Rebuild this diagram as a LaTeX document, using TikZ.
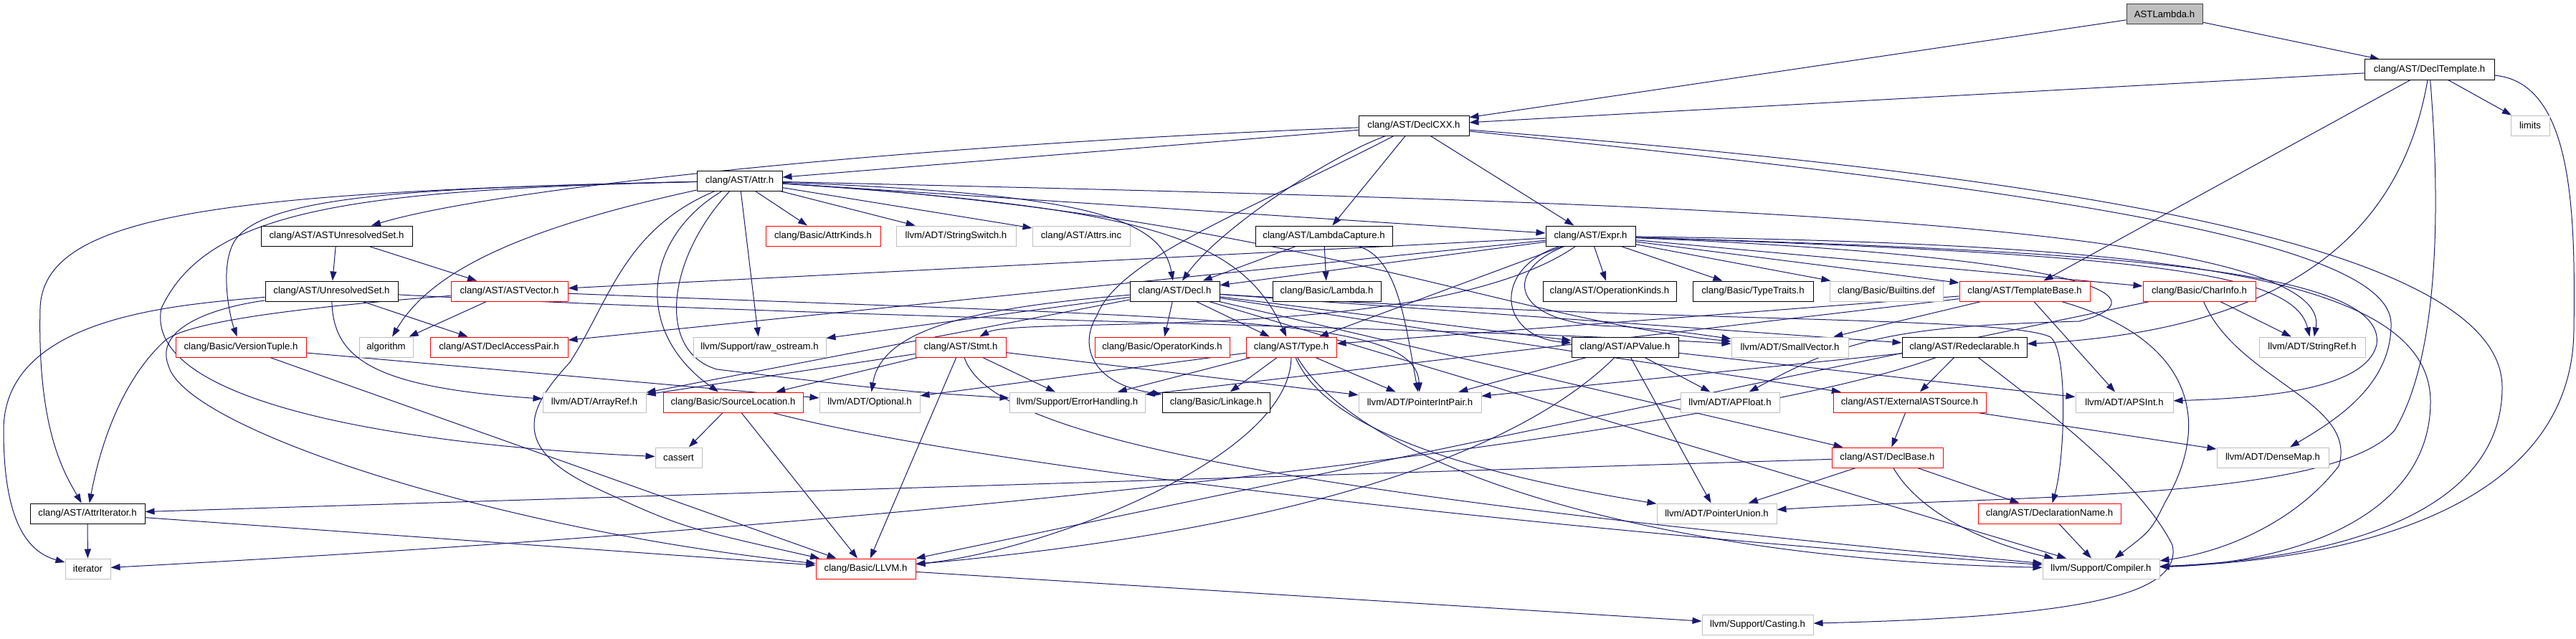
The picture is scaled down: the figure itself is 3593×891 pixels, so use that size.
\documentclass[tikz,border=0pt]{standalone}
\usepackage{fontspec}
\setmainfont{Liberation Sans}
\usetikzlibrary{arrows.meta}
\definecolor{incblue}{RGB}{25,25,112}
\definecolor{extgray}{RGB}{191,191,191}
\definecolor{truncred}{RGB}{255,0,0}
\pgfdeclarelayer{edges}
\pgfsetlayers{edges,main}

\begin{document}
\begin{tikzpicture}[x=1pt,y=-1pt,
  hdrbox/.style={draw=black,fill=white,line width=1pt,minimum height=28pt,inner sep=0pt,font=\fontsize{13.2}{15}\selectfont},
  redbox/.style={hdrbox,draw=truncred},
  sysbox/.style={hdrbox,draw=extgray},
  rootbox/.style={hdrbox,draw=black!75,fill=extgray},
  inc/.style={draw=incblue,line width=1pt,-{Triangle[length=13pt,width=9pt]}}]
\useasboundingbox (0,0) rectangle (3593,891);

\node[rootbox,minimum width=106] (astlambda) at (3019,20) {ASTLambda.h};
\node[hdrbox,minimum width=181] (decltemplate) at (3388.5,97) {clang/AST/DeclTemplate.h};
\node[hdrbox,minimum width=154] (declcxx) at (1972,175) {clang/AST/DeclCXX.h};
\node[sysbox,minimum width=54] (limits) at (3529,175) {limits};
\node[hdrbox,minimum width=119] (attr) at (1031.5,252) {clang/AST/Attr.h};
\node[hdrbox,minimum width=211] (astunresolvedset) at (469.5,329) {clang/AST/ASTUnresolvedSet.h};
\node[redbox,minimum width=160] (attrkinds) at (1148,329) {clang/Basic/AttrKinds.h};
\node[sysbox,minimum width=167] (stringswitch) at (1333.5,329) {llvm/ADT/StringSwitch.h};
\node[sysbox,minimum width=136] (attrsinc) at (1508,329) {clang/AST/Attrs.inc};
\node[hdrbox,minimum width=191] (lambdacapture) at (1846.5,329) {clang/AST/LambdaCapture.h};
\node[hdrbox,minimum width=125] (expr) at (2218.5,329) {clang/AST/Expr.h};
\node[hdrbox,minimum width=185] (unresolvedset) at (462.5,406) {clang/AST/UnresolvedSet.h};
\node[redbox,minimum width=163] (astvector) at (710.5,406) {clang/AST/ASTVector.h};
\node[hdrbox,minimum width=125] (decl) at (1638.5,406) {clang/AST/Decl.h};
\node[hdrbox,minimum width=151] (lambda) at (1850.5,406) {clang/Basic/Lambda.h};
\node[hdrbox,minimum width=186] (operationkinds) at (2245,406) {clang/AST/OperationKinds.h};
\node[hdrbox,minimum width=168] (typetraits) at (2445,406) {clang/Basic/TypeTraits.h};
\node[sysbox,minimum width=158] (builtins) at (2631,406) {clang/Basic/Builtins.def};
\node[redbox,minimum width=182] (templatebase) at (2824,406) {clang/AST/TemplateBase.h};
\node[redbox,minimum width=157] (charinfo) at (3067.5,406) {clang/Basic/CharInfo.h};
\node[redbox,minimum width=182] (versiontuple) at (336,484) {clang/Basic/VersionTuple.h};
\node[sysbox,minimum width=75] (algorithm) at (538.5,484) {algorithm};
\node[redbox,minimum width=192] (declaccesspair) at (696,484) {clang/AST/DeclAccessPair.h};
\node[sysbox,minimum width=185] (rawostream) at (1059.5,484) {llvm/Support/raw\_ostream.h};
\node[redbox,minimum width=126] (stmt) at (1340,484) {clang/AST/Stmt.h};
\node[redbox,minimum width=188] (operatorkinds) at (1621,484) {clang/Basic/OperatorKinds.h};
\node[redbox,minimum width=126] (type) at (1801,484) {clang/AST/Type.h};
\node[hdrbox,minimum width=149] (apvalue) at (2266.5,484) {clang/AST/APValue.h};
\node[sysbox,minimum width=163] (smallvector) at (2496.5,484) {llvm/ADT/SmallVector.h};
\node[hdrbox,minimum width=174] (redeclarable) at (2740,484) {clang/AST/Redeclarable.h};
\node[sysbox,minimum width=148] (stringref) at (3225,484) {llvm/ADT/StringRef.h};
\node[sysbox,minimum width=144] (arrayref) at (829,561) {llvm/ADT/ArrayRef.h};
\node[redbox,minimum width=195] (sourcelocation) at (1022.5,561) {clang/Basic/SourceLocation.h};
\node[sysbox,minimum width=140] (optional) at (1213,561) {llvm/ADT/Optional.h};
\node[sysbox,minimum width=189] (errorhandling) at (1502.5,561) {llvm/Support/ErrorHandling.h};
\node[hdrbox,minimum width=150] (linkage) at (1696,561) {clang/Basic/Linkage.h};
\node[sysbox,minimum width=171] (pointerintpair) at (1980.5,561) {llvm/ADT/PointerIntPair.h};
\node[sysbox,minimum width=138] (apfloat) at (2413,561) {llvm/ADT/APFloat.h};
\node[redbox,minimum width=213] (externalastsource) at (2663.5,561) {clang/AST/ExternalASTSource.h};
\node[sysbox,minimum width=136] (apsint) at (2963,561) {llvm/ADT/APSInt.h};
\node[sysbox,minimum width=65] (cassert) at (946.5,638) {cassert};
\node[redbox,minimum width=155] (declbase) at (2632.5,638) {clang/AST/DeclBase.h};
\node[sysbox,minimum width=156] (densemap) at (3170,638) {llvm/ADT/DenseMap.h};
\node[hdrbox,minimum width=160] (attriterator) at (122,716) {clang/AST/AttrIterator.h};
\node[sysbox,minimum width=167] (pointerunion) at (2394.5,716) {llvm/ADT/PointerUnion.h};
\node[redbox,minimum width=199] (declarationname) at (2858.5,716) {clang/AST/DeclarationName.h};
\node[sysbox,minimum width=63] (iterator) at (122.5,793) {iterator};
\node[redbox,minimum width=139] (llvm) at (1207.5,793) {clang/Basic/LLVM.h};
\node[sysbox,minimum width=163] (compiler) at (2930.5,793) {llvm/Support/Compiler.h};
\node[sysbox,minimum width=155] (casting) at (2451.5,871) {llvm/Support/Casting.h};

\begin{pgfonlayer}{edges}
\draw[inc] (astlambda) -- (declcxx);
\draw[inc] (astlambda) -- (decltemplate);
\draw[inc] (decltemplate) -- (declcxx);
\draw[inc] (decltemplate) -- (limits);
\draw[inc] (decltemplate) -- (templatebase);
\draw[inc] (decltemplate) .. controls (3350,320) and (3200,460) .. (redeclarable);
\draw[inc] (decltemplate) .. controls (3405,300) and (3400,500) .. (3340,600) .. controls (3250,700) and (2800,690) .. (pointerunion);
\draw[inc] (decltemplate) .. controls (3590,115) and (3592,300) .. (3590,460) .. controls (3588,700) and (3300,780) .. (compiler);
\draw[inc] (declcxx) -- (attr);
\draw[inc] (declcxx) .. controls (1300,200) and (700,260) .. (astunresolvedset);
\draw[inc] (declcxx) .. controls (1850,220) and (1700,320) .. (decl);
\draw[inc] (declcxx) .. controls (1750,290) and (1560,360) .. (1530,440) .. controls (1505,480) and (1520,535) .. (linkage);
\draw[inc] (declcxx) -- (lambdacapture);
\draw[inc] (declcxx) -- (expr);
\draw[inc] (declcxx) .. controls (2800,260) and (3330,330) .. (3335,450) .. controls (3337,540) and (3250,590) .. (densemap);
\draw[inc] (declcxx) .. controls (2800,240) and (3490,330) .. (3490,540) .. controls (3490,720) and (3250,780) .. (compiler);
\draw[inc] (attr) .. controls (300,268) and (60,300) .. (56,430) .. controls (52,600) and (90,660) .. (attriterator);
\draw[inc] (attr) .. controls (500,265) and (290,290) .. (225,430) .. controls (200,560) and (550,620) .. (cassert);
\draw[inc] (attr) .. controls (600,262) and (360,270) .. (325,340) .. controls (307,376) and (320,440) .. (versiontuple);
\draw[inc] (attr) .. controls (720,320) and (600,380) .. (algorithm);
\draw[inc] (attr) .. controls (870,320) and (850,420) .. (795,505) .. controls (745,560) and (700,620) .. (830,680) .. controls (950,735) .. (llvm);
\draw[inc] (attr) .. controls (900,330) and (880,460) .. (sourcelocation);
\draw[inc] (attr) .. controls (930,360) and (915,490) .. (1000,515) .. controls (1250,545) .. (errorhandling);
\draw[inc] (attr) -- (rawostream);
\draw[inc] (attr) -- (attrkinds);
\draw[inc] (attr) -- (stringswitch);
\draw[inc] (attr) -- (attrsinc);
\draw[inc] (attr) .. controls (1500,270) and (1620,300) .. (decl);
\draw[inc] (attr) .. controls (1600,290) and (1730,330) .. (type);
\draw[inc] (attr) -- (expr);
\draw[inc] (attr) .. controls (1800,300) and (2100,445) .. (smallvector);
\draw[inc] (attr) .. controls (2200,280) and (3260,300) .. (stringref);
\draw[inc] (astunresolvedset) -- (unresolvedset);
\draw[inc] (astunresolvedset) -- (astvector);
\draw[inc] (lambdacapture) -- (decl);
\draw[inc] (lambdacapture) -- (lambda);
\draw[inc] (lambdacapture) .. controls (1950,360) and (1960,450) .. (pointerintpair);
\draw[inc] (expr) .. controls (2080,375) and (2090,470) .. (apvalue);
\draw[inc] (expr) -- (astvector);
\draw[inc] (expr) -- (decl);
\draw[inc] (expr) -- (declaccesspair);
\draw[inc] (expr) -- (operationkinds);
\draw[inc] (expr) .. controls (2000,480) and (1420,440) .. (stmt);
\draw[inc] (expr) -- (templatebase);
\draw[inc] (expr) -- (type);
\draw[inc] (expr) -- (charinfo);
\draw[inc] (expr) -- (typetraits);
\draw[inc] (expr) -- (builtins);
\draw[inc] (expr) .. controls (2900,350) and (3330,370) .. (3315,480) .. controls (3300,545) and (3150,555) .. (apsint);
\draw[inc] (expr) .. controls (2960,360) and (3010,420) .. (2900,448) .. controls (2650,455) and (2580,470) .. (apfloat);
\draw[inc] (expr) .. controls (2090,380) and (2110,455) .. (2260,455) .. controls (2340,462) .. (smallvector);
\draw[inc] (expr) .. controls (3000,355) and (3200,380) .. (stringref);
\draw[inc] (expr) .. controls (3000,340) and (3390,380) .. (3390,560) .. controls (3390,720) and (3200,785) .. (compiler);
\draw[inc] (unresolvedset) -- (declaccesspair);
\draw[inc] (unresolvedset) .. controls (290,430) and (215,460) .. (235,510) .. controls (260,600) and (700,740) .. (llvm);
\draw[inc] (unresolvedset) .. controls (465,500) and (520,540) .. (arrayref);
\draw[inc] (unresolvedset) .. controls (1200,445) and (2000,455) .. (smallvector);
\draw[inc] (unresolvedset) .. controls (250,425) and (5,440) .. (5,600) .. controls (5,730) and (40,770) .. (iterator);
\draw[inc] (astvector) .. controls (400,430) and (260,450) .. (230,475) .. controls (170,530) and (140,620) .. (attriterator);
\draw[inc] (astvector) -- (algorithm);
\draw[inc] (astvector) .. controls (1700,445) and (1975,440) .. (pointerintpair);
\draw[inc] (versiontuple) -- (optional);
\draw[inc] (versiontuple) -- (llvm);
\draw[inc] (attriterator) -- (iterator);
\draw[inc] (attriterator) -- (llvm);
\draw[inc] (stmt) -- (sourcelocation);
\draw[inc] (stmt) -- (arrayref);
\draw[inc] (stmt) -- (llvm);
\draw[inc] (stmt) -- (errorhandling);
\draw[inc] (stmt) -- (pointerintpair);
\draw[inc] (stmt) .. controls (1380,600) and (1700,680) .. (compiler);
\draw[inc] (type) -- (linkage);
\draw[inc] (type) -- (errorhandling);
\draw[inc] (type) -- (optional);
\draw[inc] (type) -- (pointerintpair);
\draw[inc] (type) .. controls (1800,640) and (1450,770) .. (llvm);
\draw[inc] (type) .. controls (1850,600) and (2050,660) .. (pointerunion);
\draw[inc] (type) .. controls (1900,650) and (2300,780) .. (compiler);
\draw[inc] (apvalue) .. controls (2150,600) and (1900,730) .. (llvm);
\draw[inc] (apvalue) -- (apfloat);
\draw[inc] (apvalue) -- (apsint);
\draw[inc] (apvalue) -- (pointerintpair);
\draw[inc] (apvalue) -- (pointerunion);
\draw[inc] (decl) -- (apvalue);
\draw[inc] (decl) -- (declbase);
\draw[inc] (decl) .. controls (2300,450) and (2800,440) .. (2860,470) .. controls (2885,490) and (2880,640) .. (declarationname);
\draw[inc] (decl) -- (externalastsource);
\draw[inc] (decl) -- (redeclarable);
\draw[inc] (decl) -- (type);
\draw[inc] (decl) -- (operatorkinds);
\draw[inc] (decl) -- (arrayref);
\draw[inc] (decl) .. controls (1350,430) and (1230,460) .. (optional);
\draw[inc] (decl) -- (compiler);
\draw[inc] (decl) -- (rawostream);
\draw[inc] (redeclarable) -- (externalastsource);
\draw[inc] (redeclarable) -- (pointerintpair);
\draw[inc] (redeclarable) .. controls (2880,590) and (2990,680) .. (3030,760) .. controls (3045,830) and (2900,860) .. (casting);
\draw[inc] (redeclarable) .. controls (2450,590) and (1500,720) .. (iterator);
\draw[inc] (templatebase) -- (type);
\draw[inc] (templatebase) -- (apsint);
\draw[inc] (templatebase) -- (smallvector);
\draw[inc] (templatebase) -- (errorhandling);
\draw[inc] (templatebase) .. controls (3050,470) and (3090,580) .. (3020,700) .. controls (3000,740) .. (compiler);
\draw[inc] (charinfo) -- (llvm);
\draw[inc] (charinfo) -- (stringref);
\draw[inc] (charinfo) .. controls (3120,530) and (3290,560) .. (3262,650) .. controls (3200,730) and (3100,770) .. (compiler);
\draw[inc] (sourcelocation) -- (cassert);
\draw[inc] (sourcelocation) -- (llvm);
\draw[inc] (sourcelocation) .. controls (1400,660) and (2300,750) .. (compiler);
\draw[inc] (externalastsource) -- (declbase);
\draw[inc] (externalastsource) -- (densemap);
\draw[inc] (declbase) -- (attriterator);
\draw[inc] (declbase) -- (pointerunion);
\draw[inc] (declbase) -- (declarationname);
\draw[inc] (declbase) .. controls (2680,720) and (2780,760) .. (compiler);
\draw[inc] (declarationname) -- (compiler);
\draw[inc] (llvm) -- (casting);
\end{pgfonlayer}

\end{tikzpicture}
\end{document}
